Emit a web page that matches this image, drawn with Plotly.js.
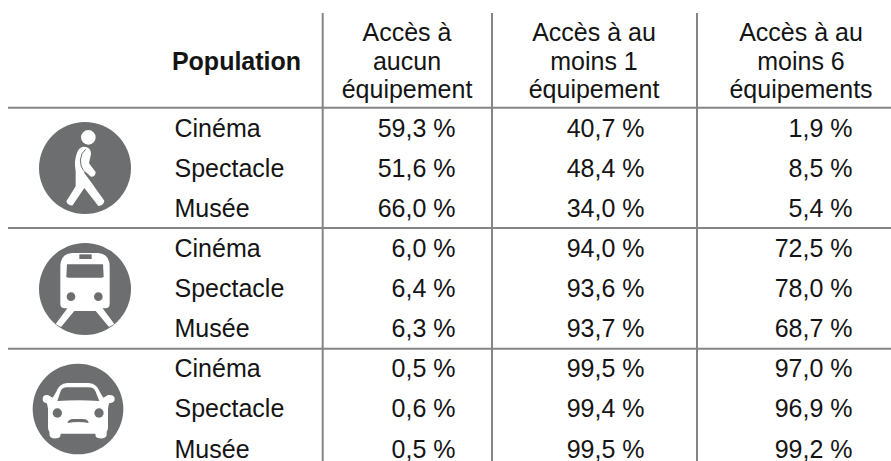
<!DOCTYPE html>
<html>
<head>
<meta charset="utf-8">
<script src="https://cdn.plot.ly/plotly-3.0.1.min.js"></script>
<style>html,body{margin:0;padding:0;background:#fff}#c{width:891px;height:461px}</style>
</head>
<body>
<div id="c"></div>
<script>
// ---- Table content ----
const equipements = ['Cinéma', 'Spectacle', 'Musée'];
const aucun   = [59.3, 51.6, 66.0, 6.0, 6.4, 6.3, 0.5, 0.6, 0.5];
const moins1  = [40.7, 48.4, 34.0, 94.0, 93.6, 93.7, 99.5, 99.4, 99.5];
const moins6  = [1.9, 8.5, 5.4, 72.5, 78.0, 68.7, 97.0, 96.9, 99.2];
const populationTitle = 'Population';
const head1 = ['Accès à', 'aucun', 'équipement'];
const head2 = ['Accès à au', 'moins 1', 'équipement'];
const head3 = ['Accès à au', 'moins 6', 'équipements'];

// ---- Layout ----
const W = 891, H = 461;
const FS = 25, INK = '#141414', RULE = '#858585', ICON = '#6d6e70';
const rowY = i => 130.4 + i * 40.12;
const headY = [35, 63.5, 92];
const fmt = v => v.toFixed(1).replace('.', ',') + '\u00a0%';

function textTrace(xs, ys, texts, pos, weight) {
  return {type: 'scatter', mode: 'text', x: xs, y: ys, text: texts,
    textposition: pos, hoverinfo: 'skip', showlegend: false, cliponaxis: false,
    textfont: {family: 'Liberation Sans, Arial, sans-serif', size: FS, color: INK, weight: weight || 400}};
}
const idx = aucun.map((_, i) => i);
const labels = idx.map(i => equipements[i % 3]);
const traces = [
  textTrace(idx.map(() => 174.5), idx.map(rowY), labels, 'middle right'),
  textTrace(idx.map(() => 455.5), idx.map(rowY), aucun.map(fmt), 'middle left'),
  textTrace(idx.map(() => 644.5), idx.map(rowY), moins1.map(fmt), 'middle left'),
  textTrace(idx.map(() => 852.5), idx.map(rowY), moins6.map(fmt), 'middle left'),
  textTrace([236.5], [63.5], [populationTitle], 'middle center', 700),
  textTrace(head1.map(() => 407), headY, head1, 'middle center'),
  textTrace(head2.map(() => 594), headY, head2, 'middle center'),
  textTrace(head3.map(() => 801), headY, head3, 'middle center')
];

// ---- Rules ----
const shapes = [];
[322.7, 492, 697].forEach(x => shapes.push({type: 'line', x0: x, x1: x, y0: 13, y1: H, line: {color: RULE, width: 2}}));
[107.7, 228, 348.7].forEach(y => shapes.push({type: 'line', x0: 8, x1: W, y0: y, y1: y, line: {color: RULE, width: 2}}));

// ---- Icons: drawn in a 0..300 box, one unit = 1/3 pixel ----
function icon(ox, oy) {
  const X = v => ox + v / 3, Y = v => oy + v / 3;
  const path = (d, fill, stroke, sw) => {
    const s = d.replace(/(-?[\d.]+),(-?[\d.]+)/g, (m, a, b) => X(+a).toFixed(2) + ',' + Y(+b).toFixed(2));
    shapes.push({type: 'path', path: s, fillcolor: fill, line: {color: stroke || fill, width: sw === undefined ? 0 : sw}});
  };
  const circ = (cx, cy, r, fill) => shapes.push({type: 'circle', x0: X(cx - r), x1: X(cx + r), y0: Y(cy - r), y1: Y(cy + r),
    fillcolor: fill, line: {width: 0}});
  return {path, circ};
}

// walker
(function () {
  const k = icon(35, 118);
  k.circ(150, 150, 138, ICON);
  k.circ(160, 58, 22, '#fff');
  k.path('M 146,86 Q 168,86 168,108 L 162,136 L 182,162 Q 182,176 168,176 L 148,158 L 148,165 L 168,192 L 208,248 Q 206,262 190,264 L 148,210 L 113,262 Q 98,264 94,250 L 122,205 L 122,160 Q 116,130 126,104 Q 132,88 146,86 Z', '#fff');
  k.path('M 152,94 Q 138,104 136,126 Q 136,146 146,158', 'rgba(0,0,0,0)', ICON, 1);
})();

// train
(function () {
  const k = icon(35, 239);
  k.circ(150, 150, 138, ICON);
  k.path('M 76,80 Q 78,44 110,42 L 190,42 Q 222,44 224,80 L 224,195 Q 224,208 210,208 L 90,208 Q 76,208 76,195 Z', '#fff');
  k.path('M 96,76 L 204,76 L 206,112 Q 206,116 200,116 L 100,116 Q 94,116 94,112 Z', ICON);
  k.path('M 133,46 L 170,46 L 170,60 L 133,60 Z', ICON);
  k.circ(108, 173, 13, ICON);
  k.circ(190, 173, 13, ICON);
  k.path('M 100,204 L 62,255 L 78,264 L 118,216 L 182,216 L 222,264 L 238,255 L 200,204 Z', '#fff');
})();

// car
(function () {
  const k = icon(28, 359);
  k.circ(150, 150, 136, ICON);
  k.path('M 84,100 Q 92,74 118,72 L 182,72 Q 208,74 216,100 L 226,116 L 240,108 Q 260,106 260,120 Q 260,132 244,132 Q 241,140 240,150 L 240,205 Q 240,214 236,218 L 236,230 Q 230,240 215,238 Q 202,238 202,224 L 98,224 Q 98,238 85,238 Q 70,240 65,230 L 64,218 Q 60,214 60,205 L 60,150 Q 59,140 56,132 Q 44,132 44,120 Q 44,106 60,108 L 74,116 Z', '#fff');
  k.path('M 88,126 L 98,96 Q 102,86 118,85 L 182,85 Q 198,86 202,96 L 214,126 Q 150,122 88,126 Z', ICON);
  k.circ(88, 162, 14, ICON);
  k.circ(213, 162, 14, ICON);
  k.path('M 118,192 Q 122,180 135,180 L 165,180 Q 180,180 182,192 Q 150,186 118,192 Z', ICON);
})();

const hidden = {visible: false, fixedrange: true, showgrid: false, zeroline: false};
Plotly.newPlot('c', traces, {
  width: W, height: H, margin: {l: 0, r: 0, t: 0, b: 0},
  paper_bgcolor: '#fff', plot_bgcolor: '#fff', showlegend: false,
  xaxis: Object.assign({}, hidden, {range: [0, W]}),
  yaxis: Object.assign({}, hidden, {range: [H, 0]}),
  shapes: shapes
}, {staticPlot: true, displayModeBar: false});
</script>
</body>
</html>
